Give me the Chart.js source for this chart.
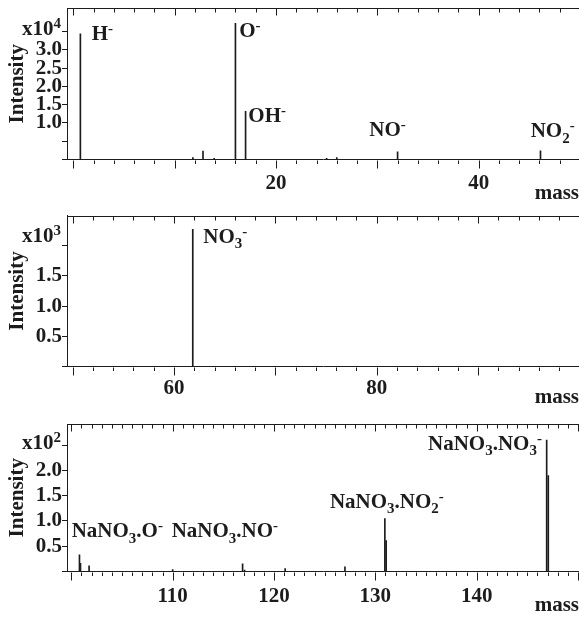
<!DOCTYPE html>
<html>
<head>
<meta charset="utf-8">
<script src="https://cdn.jsdelivr.net/npm/chart.js@4.4.1/dist/chart.umd.min.js"></script>
<style>
  body { margin: 0; background: #fff; }
  #wrap { position: relative; width: 579px; height: 618px; }
  canvas { position: absolute; left: 0; }
</style>
</head>
<body>
<div id="wrap">
  <canvas id="c1" width="579" height="206" style="top:0px"></canvas>
  <canvas id="c2" width="579" height="204" style="top:206px"></canvas>
  <canvas id="c3" width="579" height="208" style="top:410px"></canvas>
</div>
<script>
const INK = '#1c1c1c';

// top panel, intensity in units of 10^4
const massA = [0.7, 11.8, 12.8, 13.9, 16, 17, 25, 26, 32, 46.1];
const intA = [3.44, 0.05, 0.23, 0.03, 3.73, 1.32, 0.03, 0.05, 0.21, 0.24];
const xLabelsA = [20, 40];
const yLabelsA = [1.0, 1.5, 2.0, 2.5, 3.0];

// middle panel, units of 10^3
const massB = [61.85];
const intB = [2.27];
const xLabelsB = [60, 80];
const yLabelsB = [0.5, 1.0, 1.5];

// bottom panel, units of 10^2
const massC = [100.8, 100.9, 101.75, 110, 116.9, 117.1, 121.1, 127, 130.94, 131.07, 146.91, 147.07];
const intC = [0.33, 0.16, 0.11, 0.04, 0.15, 0.03, 0.06, 0.09, 1.05, 0.61, 2.6, 1.9];
const xLabelsC = [110, 120, 130, 140];
const yLabelsC = [0.5, 1.0, 1.5, 2.0];

Chart.defaults.font.family = '"Liberation Serif", "Times New Roman", serif';
Chart.defaults.font.size = 21;
Chart.defaults.font.weight = 'bold';
Chart.defaults.color = INK;

const BIG = 'bold 21px "Liberation Serif"';
const SMALL = 'bold 15px "Liberation Serif"';

function richWidth(ctx, parts) {
  let w = 0;
  parts.forEach(p => {
    ctx.font = p[1] ? SMALL : BIG;
    w += ctx.measureText(p[0]).width;
  });
  return w;
}

function drawRich(ctx, parts, x, y) {
  parts.forEach(p => {
    ctx.font = p[1] ? SMALL : BIG;
    let dy = 0;
    if (p[1] === 'sup') dy = -7;
    if (p[1] === 'sub') dy = 5.5;
    ctx.fillText(p[0], x, y + dy);
    x += ctx.measureText(p[0]).width;
  });
}

// frame on top, ticks on top and bottom, exponent and peak names
const decor = {
  id: 'decor',
  afterDraw(chart, args, opts) {
    const ctx = chart.ctx;
    const a = chart.chartArea;
    const x = chart.scales.x;
    const y = chart.scales.y;
    ctx.save();
    ctx.strokeStyle = INK;
    ctx.fillStyle = INK;
    ctx.lineWidth = 1;
    ctx.beginPath();
    const top = Math.round(a.top) + 0.5;
    const bottom = Math.round(a.bottom) + 0.5;
    ctx.moveTo(a.left, top);
    ctx.lineTo(a.right, top);
    x.ticks.forEach(t => {
      const px = Math.round(x.getPixelForValue(t.value)) + 0.5;
      const major = Math.abs(t.value % 10) < 1e-6;
      ctx.moveTo(px, bottom);
      ctx.lineTo(px, bottom + (major ? 8 : 3.5));
      ctx.moveTo(px, top);
      ctx.lineTo(px, top + (major ? 7 : 4));
    });
    ctx.stroke();

    ctx.textBaseline = 'alphabetic';
    const ex = opts.exponent;
    const w = richWidth(ctx, ex.parts);
    drawRich(ctx, ex.parts, a.left - 6 - w, y.getPixelForValue(ex.at) + 3.5);

    opts.peaks.forEach(p => {
      drawRich(ctx, p.parts, x.getPixelForValue(p.x), y.getPixelForValue(p.y));
    });
    ctx.restore();
  }
};

function makeChart(id, cfg) {
  return new Chart(document.getElementById(id), {
    type: 'bar',
    data: {
      datasets: [{
        data: cfg.mass.map((m, i) => ({ x: m, y: cfg.intensity[i] })),
        backgroundColor: INK,
        barThickness: 1,
        grouped: false
      }]
    },
    options: {
      responsive: false,
      animation: false,
      devicePixelRatio: 1,
      layout: { padding: { top: cfg.padTop, left: 0, right: 0, bottom: 0 } },
      plugins: {
        legend: { display: false },
        tooltip: { enabled: false },
        decor: { exponent: cfg.exponent, peaks: cfg.peaks }
      },
      scales: {
        x: {
          type: 'linear',
          min: cfg.xMin,
          max: cfg.xMax,
          offset: false,
          grid: { display: false },
          border: { color: INK, width: 1 },
          ticks: {
            stepSize: cfg.xStep,
            includeBounds: false,
            autoSkip: false,
            maxRotation: 0,
            padding: cfg.xPad,
            callback: v => cfg.xLabels.includes(v) ? String(v) : ''
          },
          title: {
            display: true,
            text: 'mass',
            align: 'end',
            padding: { top: 0, bottom: cfg.massPad }
          },
          afterFit: s => {
            s.height = cfg.xHeight;
            s.paddingLeft = 0;
            s.paddingRight = 0;
          }
        },
        y: {
          min: 0,
          max: cfg.yMax,
          grid: { drawOnChartArea: false, tickLength: 5, color: INK },
          border: { color: INK, width: 1 },
          ticks: {
            stepSize: 0.5,
            includeBounds: false,
            autoSkip: false,
            padding: 0,
            callback: v => cfg.yLabels.includes(v) ? v.toFixed(1) : ''
          },
          afterBuildTicks: s => {
            s.ticks = s.ticks.filter(t => t.value <= cfg.yTop + 1e-9);
          },
          title: {
            display: true,
            text: 'Intensity',
            padding: { top: 5, bottom: 0 }
          },
          afterFit: s => {
            s.width = 67;
            s.paddingTop = 0;
            s.paddingBottom = 0;
          }
        }
      }
    },
    plugins: [decor]
  });
}

makeChart('c1', {
  mass: massA, intensity: intA, xLabels: xLabelsA, yLabels: yLabelsA,
  xMin: -0.62, xMax: 49.9, xStep: 2, yMax: 4.15, yTop: 3.5,
  padTop: 8, xHeight: 46.5, xPad: 3, massPad: 0,
  exponent: { parts: [['x10'], ['4', 'sup']], at: 3.5 },
  peaks: [
    { parts: [['H'], ['-', 'sup']], x: 1.82, y: 3.27 },
    { parts: [['O'], ['-', 'sup']], x: 16.38, y: 3.36 },
    { parts: [['OH'], ['-', 'sup']], x: 17.27, y: 1.035 },
    { parts: [['NO'], ['-', 'sup']], x: 29.2, y: 0.64 },
    { parts: [['NO'], ['2', 'sub'], ['-', 'sup']], x: 45.13, y: 0.61 }
  ]
});

makeChart('c2', {
  mass: massB, intensity: intB, xLabels: xLabelsB, yLabels: yLabelsB,
  xMin: 49.44, xMax: 99.96, xStep: 2, yMax: 2.5, yTop: 2.0,
  padTop: 9.5, xHeight: 43.5, xPad: 1, massPad: 0,
  exponent: { parts: [['x10'], ['3', 'sup']], at: 2.12 },
  peaks: [
    { parts: [['NO'], ['3', 'sub'], ['-', 'sup']], x: 62.89, y: 2.05 }
  ]
});

makeChart('c3', {
  mass: massC, intensity: intC, xLabels: xLabelsC, yLabels: yLabelsC,
  xMin: 99.57, xMax: 150.1, xStep: 1, yMax: 2.92, yTop: 2.5,
  padTop: 14, xHeight: 46.5, xPad: 4, massPad: 0,
  exponent: { parts: [['x10'], ['2', 'sup']], at: 2.5 },
  peaks: [
    { parts: [['NaNO'], ['3', 'sub'], ['.O'], ['-', 'sup']], x: 100.03, y: 0.675 },
    { parts: [['NaNO'], ['3', 'sub'], ['.NO'], ['-', 'sup']], x: 109.9, y: 0.675 },
    { parts: [['NaNO'], ['3', 'sub'], ['.NO'], ['2', 'sub'], ['-', 'sup']], x: 125.52, y: 1.266 },
    { parts: [['NaNO'], ['3', 'sub'], ['.NO'], ['3', 'sub'], ['-', 'sup']], x: 135.2, y: 2.41 }
  ]
});
</script>
</body>
</html>
